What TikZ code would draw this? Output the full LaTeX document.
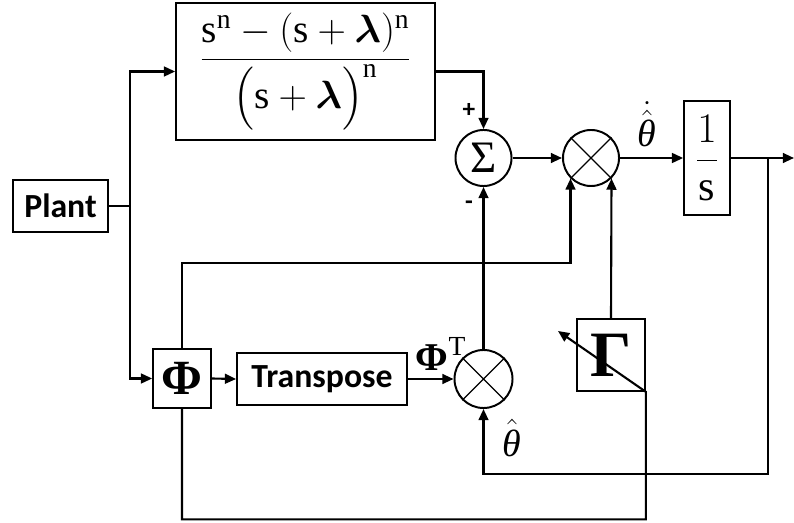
\documentclass[tikz,border=0pt]{standalone}
\usepackage{fix-cm}
\usepackage{amsmath}
\usepackage{bm}
\usepackage{fontspec}
\setmainfont{Liberation Serif}
\setsansfont{Carlito}
\usetikzlibrary{arrows.meta, positioning, calc}
\tikzset{
  block/.style={rectangle, draw, line width=1.2pt, inner sep=0pt},
  mulnode/.style={circle, draw, line width=1.4pt,
    minimum size=1.4cm, inner sep=0pt},
  arrow/.style={-{Triangle[length=8pt,width=7pt]}, line width=1.5pt},
  line/.style={line width=1.5pt},
  sanslbl/.style={font=\sffamily\bfseries\fontsize{24}{28}\selectfont},
  signlbl/.style={font=\sffamily\bfseries\fontsize{18}{20}\selectfont}
}
\newcommand{\crossin}[1]{\draw[line width=0.9pt] (#1.north west) -- (#1.south east) (#1.north east) -- (#1.south west);}
\newcommand{\thit}{\text{\itshape θ}}

\begin{document}
\begin{tikzpicture}[x=0.025cm, y=-0.025cm]
  \useasboundingbox (0,0) rectangle (794,523);

  % Plant and filter blocks
  \node[block, sanslbl, minimum width=2.375cm, minimum height=1.3cm] (plant) at (60.5,206) {Plant};
  \node[block, minimum width=6.475cm, minimum height=3.425cm, font=\fontsize{28}{32}\selectfont] (frac) at (305.5,71.5)
    {$\dfrac{\mathrm{s}^{\mathrm{n}}-(\mathrm{s}+\bm{\lambda})^{\mathrm{n}}}{\bigl(\mathrm{s}+\bm{\lambda}\bigr)^{\mathrm{n}}}$};

  % Summing and product junctions
  \node[mulnode, font=\fontsize{32}{36}\selectfont] (sum) at (483.5,158) {Σ};
  \node[mulnode] (mulA) at (591,158) {};
  \node[mulnode, minimum size=1.45cm] (mulB) at (483.5,379) {};
  \crossin{mulA}
  \crossin{mulB}

  % Integrator
  \node[block, minimum width=1.15cm, minimum height=2.85cm, font=\fontsize{30}{34}\selectfont] (integ) at (707,158) {$\dfrac{1}{\mathrm{s}}$};

  % Regressor path
  \node[block, minimum width=1.45cm, minimum height=1.475cm, font=\bfseries\fontsize{35}{40}\selectfont] (phi) at (182,378.5) {Φ};
  \node[block, sanslbl, minimum width=4.25cm, minimum height=1.3cm] (transp) at (322,379) {Transpose};
  \node[block, minimum width=1.7cm, minimum height=1.8cm, font=\bfseries\fontsize{46}{50}\selectfont] (gain) at (611,355) {Γ};

  % Labels
  \node[signlbl] (plus) at (469,110) {+};
  \node[signlbl] (minus) at (469,205) {-};
  \node[font=\fontsize{27}{30}\selectfont] (thdot) at (647,124) {$\dot{\hat{\thit}}$};
  \node[font=\fontsize{28}{32}\selectfont] (phit) at (441,354) {\bfseries Φ\textsuperscript{\mdseries T}};
  \node[font=\fontsize{27}{30}\selectfont] (thhat) at (512,438) {$\hat{\thit}$};

  % Free ends
  \coordinate (split) at (130,206);
  \coordinate (tap) at (768,158);
  \coordinate (out) at (794,158);
  \coordinate (gaintip) at (558,331);

  % Connectors
  \draw[line] (plant.east) -- (split);
  \draw[arrow] (split) |- (frac.west);
  \draw[arrow] (split) |- (phi.west);
  \draw[arrow] (frac.east) -| (sum.north);
  \draw[arrow] (sum.east) -- (mulA.west);
  \draw[arrow] (mulA.east) -- (integ.west);
  \draw[arrow] (integ.east) -- (out);
  \draw[arrow] (tap) -- ++(0,316) -| (mulB.south);
  \draw[arrow] (phi.east) -- (transp.west);
  \draw[arrow] (transp.east) -- (mulB.west);
  \draw[arrow] (mulB.north) -- (sum.south);
  \draw[arrow] (phi.north) -- ++(0,-85) -| (mulA.south west);
  \draw[arrow] (gain.north) -- (mulA.south east);
  \draw[arrow] (phi.south) -- ++(0,110.5) -| (gain.south east) -- (gaintip);
\end{tikzpicture}
\end{document}
